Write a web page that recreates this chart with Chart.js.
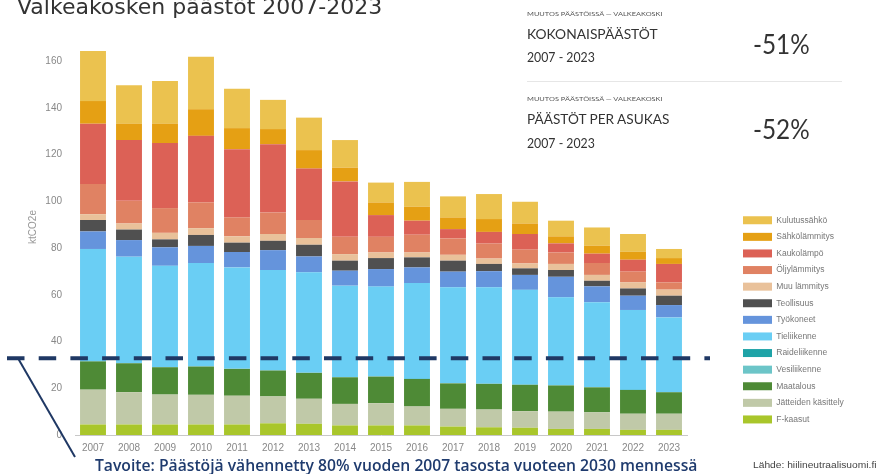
<!DOCTYPE html>
<html><head><meta charset="utf-8">
<script src="https://cdn.jsdelivr.net/npm/chart.js@4.4.1/dist/chart.umd.min.js"></script>
<style>
html,body{margin:0;padding:0;background:#fff;}
#wrap{position:relative;width:884px;height:474px;overflow:hidden;background:#fff;}
canvas{position:absolute;left:0;top:0;}
.t{position:absolute;white-space:nowrap;line-height:1;transform-origin:0 50%;}
</style></head><body>
<div id="wrap">
<canvas id="c" width="884" height="474"></canvas>
<div class="t" id="title" style="left:17px;top:-5.6px;font:22px 'DejaVu Sans';color:#333;">Valkeakosken päästöt 2007-2023</div>
<div class="t" data-x="527" data-cy="14" data-w="135" style="font:5.5px 'Lato';color:#555;">MUUTOS PÄÄSTÖISSÄ — VALKEAKOSKI</div>
<div class="t" data-x="527" data-cy="33" data-w="131" style="font:14px 'Lato';color:#333;">KOKONAISPÄÄSTÖT</div>
<div class="t" data-x="527" data-cy="57" data-w="68" style="font:13px 'Lato';color:#333;">2007 - 2023</div>
<div class="t" data-x="753" data-cy="44" data-w="57" style="font:26px 'Lato';color:#333;">-51%</div>
<div style="position:absolute;left:527px;top:81px;width:315px;height:1px;background:#e6e6e6;"></div>
<div class="t" data-x="527" data-cy="99" data-w="135" style="font:5.5px 'Lato';color:#555;">MUUTOS PÄÄSTÖISSÄ — VALKEAKOSKI</div>
<div class="t" data-x="527" data-cy="118" data-w="142" style="font:14px 'Lato';color:#333;">PÄÄSTÖT PER ASUKAS</div>
<div class="t" data-x="527" data-cy="143" data-w="68" style="font:13px 'Lato';color:#333;">2007 - 2023</div>
<div class="t" data-x="753" data-cy="129" data-w="57" style="font:26px 'Lato';color:#333;">-52%</div>
<div class="t" data-x="95" data-cy="465" data-w="602" style="font:600 16px 'Open Sans';color:#1f3b6e;">Tavoite: Päästöjä vähennetty 80% vuoden 2007 tasosta vuoteen 2030 mennessä</div>
<div class="t" data-x="753" data-cy="465" data-w="124" style="font:9px 'Liberation Sans';color:#444;">Lähde: hiilineutraalisuomi.fi</div>
</div>
<script>
// ---- data ----
const years = ['2007','2008','2009','2010','2011','2012','2013','2014','2015','2016','2017','2018','2019','2020','2021','2022','2023'];
const fKaasut       = [4.5,4.5,4.5,4.5,4.5,5.0,4.8,4.1,4.1,4.1,3.6,3.3,3.1,2.6,2.6,2.2,2.2];
const jatteet       = [14.9,13.8,12.8,12.7,12.3,11.5,10.7,9.2,9.5,8.1,7.6,7.6,7.1,7.4,7.1,6.9,6.9];
const maatalous     = [12.1,12.4,11.7,12.1,11.5,11.1,11.1,11.4,11.4,11.8,10.9,11.0,11.3,11.2,10.7,10.2,9.2];
const vesiliikenne  = [0,0,0,0,0,0,0,0,0,0,0,0,0,0,0,0,0];
const raideliikenne = [0,0,0,0,0,0,0,0,0,0,0,0,0,0,0,0,0];
const tieliikenne   = [48.1,45.6,43.4,44.3,43.4,43.0,43.0,39.2,38.5,41.0,41.1,41.3,40.6,37.7,36.4,34.2,32.0];
const tyokoneet     = [7.5,7.1,7.9,7.3,6.6,8.5,6.8,6.4,7.5,6.7,6.7,6.9,6.4,8.8,6.8,6.1,5.3];
const teollisuus    = [4.9,4.5,3.4,4.7,4.0,4.0,5.0,4.3,4.7,4.3,4.7,3.1,2.8,2.9,2.4,3.1,4.0];
const muuLammitys   = [2.5,2.6,2.8,2.9,2.7,2.9,2.9,2.8,2.4,2.1,2.5,2.3,2.1,2.6,2.5,2.6,2.6];
const oljylammitys  = [12.9,9.7,10.6,11.0,8.1,9.2,7.7,7.4,6.7,7.6,7.0,6.4,5.9,4.9,5.1,4.6,3.1];
const kaukolampo    = [25.8,26.0,27.8,28.5,29.2,29.2,22.0,23.7,9.3,6.0,4.0,5.0,6.7,3.9,4.0,5.1,7.9];
const sahkolammitys = [9.7,7.0,8.3,11.4,9.0,6.5,7.9,5.9,5.4,6.0,5.0,5.5,4.5,3.0,3.4,3.4,2.5];
const kulutussahko  = [21.4,16.5,18.3,22.5,16.9,12.5,13.9,11.8,8.5,10.6,9.0,10.7,9.3,6.7,7.8,7.6,3.9];

const seriesNames = ['F-kaasut','Jätteiden käsittely','Maatalous','Vesiliikenne','Raideliikenne','Tieliikenne','Työkoneet','Teollisuus','Muu lämmitys','Öljylämmitys','Kaukolämpö','Sähkölämmitys','Kulutussähkö'];
const seriesValues = [fKaasut,jatteet,maatalous,vesiliikenne,raideliikenne,tieliikenne,tyokoneet,teollisuus,muuLammitys,oljylammitys,kaukolampo,sahkolammitys,kulutussahko];
const seriesColors = ['#a9c62b','#c0c9a8','#4e8a36','#6cc5c8','#1ea3a7','#6acef4','#6594dc','#505050','#e9c19a','#e08263','#dc6156','#e5a014','#ebc24f'];
const yTicks = [0,20,40,60,80,100,120,140,160];
const targetReduction = 0.8; // tavoite: -80 % vuoden 2007 tasosta
const baseTotal = seriesValues.reduce((s, arr) => s + arr[0], 0);
const targetValue = baseTotal * (1 - targetReduction);

// ---- plugins ----
const legendPlacer = {
  id: 'legendPlacer',
  beforeInit(chart) {
    const lg = chart.legend;
    if (lg && !lg._patched) {
      const orig = lg.fit.bind(lg);
      lg.fit = function () { orig(); this.width = 197; };
      lg._patched = true;
    }
  },
  afterLayout(chart) {
    const lg = chart.legend;
    const pad = lg.options.labels.padding;
    lg.left = 743 - pad; lg.right = 884;
    lg.top = 216 - pad; lg.bottom = 474;
  }
};
const targetLine = {
  id: 'targetLine',
  afterDatasetsDraw(chart) {
    const {ctx, scales: {y}, chartArea} = chart;
    const py = y.getPixelForValue(targetValue);
    ctx.save();
    ctx.strokeStyle = '#1f3864';
    ctx.lineCap = 'butt';
    ctx.lineWidth = 2;
    ctx.beginPath(); ctx.moveTo(18, py); ctx.lineTo(75, chartArea.bottom + 22); ctx.stroke();
    ctx.lineWidth = 4;
    ctx.setLineDash([17.5, 14.2]);
    ctx.beginPath(); ctx.moveTo(7, py); ctx.lineTo(710, py); ctx.stroke();
    ctx.restore();
  }
};

new Chart(document.getElementById('c'), {
  type: 'bar',
  data: {
    labels: years,
    datasets: seriesNames.map((n, i) => ({
      label: n, data: seriesValues[i], backgroundColor: seriesColors[i],
      borderWidth: 0, barPercentage: 0.72, categoryPercentage: 1
    }))
  },
  options: {
    responsive: false, animation: false, devicePixelRatio: 1,
    layout: {padding: {top: 18.5, bottom: 13, left: 0, right: 0}},
    plugins: {
      tooltip: {enabled: false},
      legend: {
        position: 'right', align: 'start', reverse: true,
        labels: {boxWidth: 29, boxHeight: 8, padding: 8.1, color: '#777',
          font: {family: 'Liberation Sans', size: 8.5}}
      }
    },
    scales: {
      x: {
        stacked: true,
        grid: {display: false, drawTicks: false},
        border: {display: true, color: '#c8c8c8', width: 1},
        ticks: {color: '#888', font: {family: 'Liberation Sans', size: 10}, padding: 7, maxRotation: 0, autoSkip: false}
      },
      y: {
        stacked: true, min: 0, max: 178,
        grid: {display: false, drawTicks: false},
        border: {display: false},
        ticks: {stepSize: 20, color: '#888', font: {family: 'Liberation Sans', size: 10}, padding: 13},
        afterBuildTicks(scale) { scale.ticks = yTicks.map(v => ({value: v})); },
        afterFit(scale) { scale.width = 75; },
        title: {display: true, text: 'ktCO2e', color: '#999', font: {family: 'Liberation Sans', size: 10}, padding: {top: 27, bottom: 0}}
      }
    }
  },
  plugins: [legendPlacer, targetLine]
});

// ---- place overlay texts ----
function placeTexts() {
  document.querySelectorAll('.t[data-x]').forEach(el => {
    el.style.transform = 'none';
    el.style.left = el.dataset.x + 'px';
    const h = el.offsetHeight;
    el.style.top = (parseFloat(el.dataset.cy) - h / 2) + 'px';
    if (el.dataset.w) {
      const w = el.offsetWidth;
      el.style.transform = 'scaleX(' + (parseFloat(el.dataset.w) / w) + ')';
    }
  });
}
placeTexts();
if (document.fonts && document.fonts.ready) document.fonts.ready.then(placeTexts);
</script>
</body></html>
